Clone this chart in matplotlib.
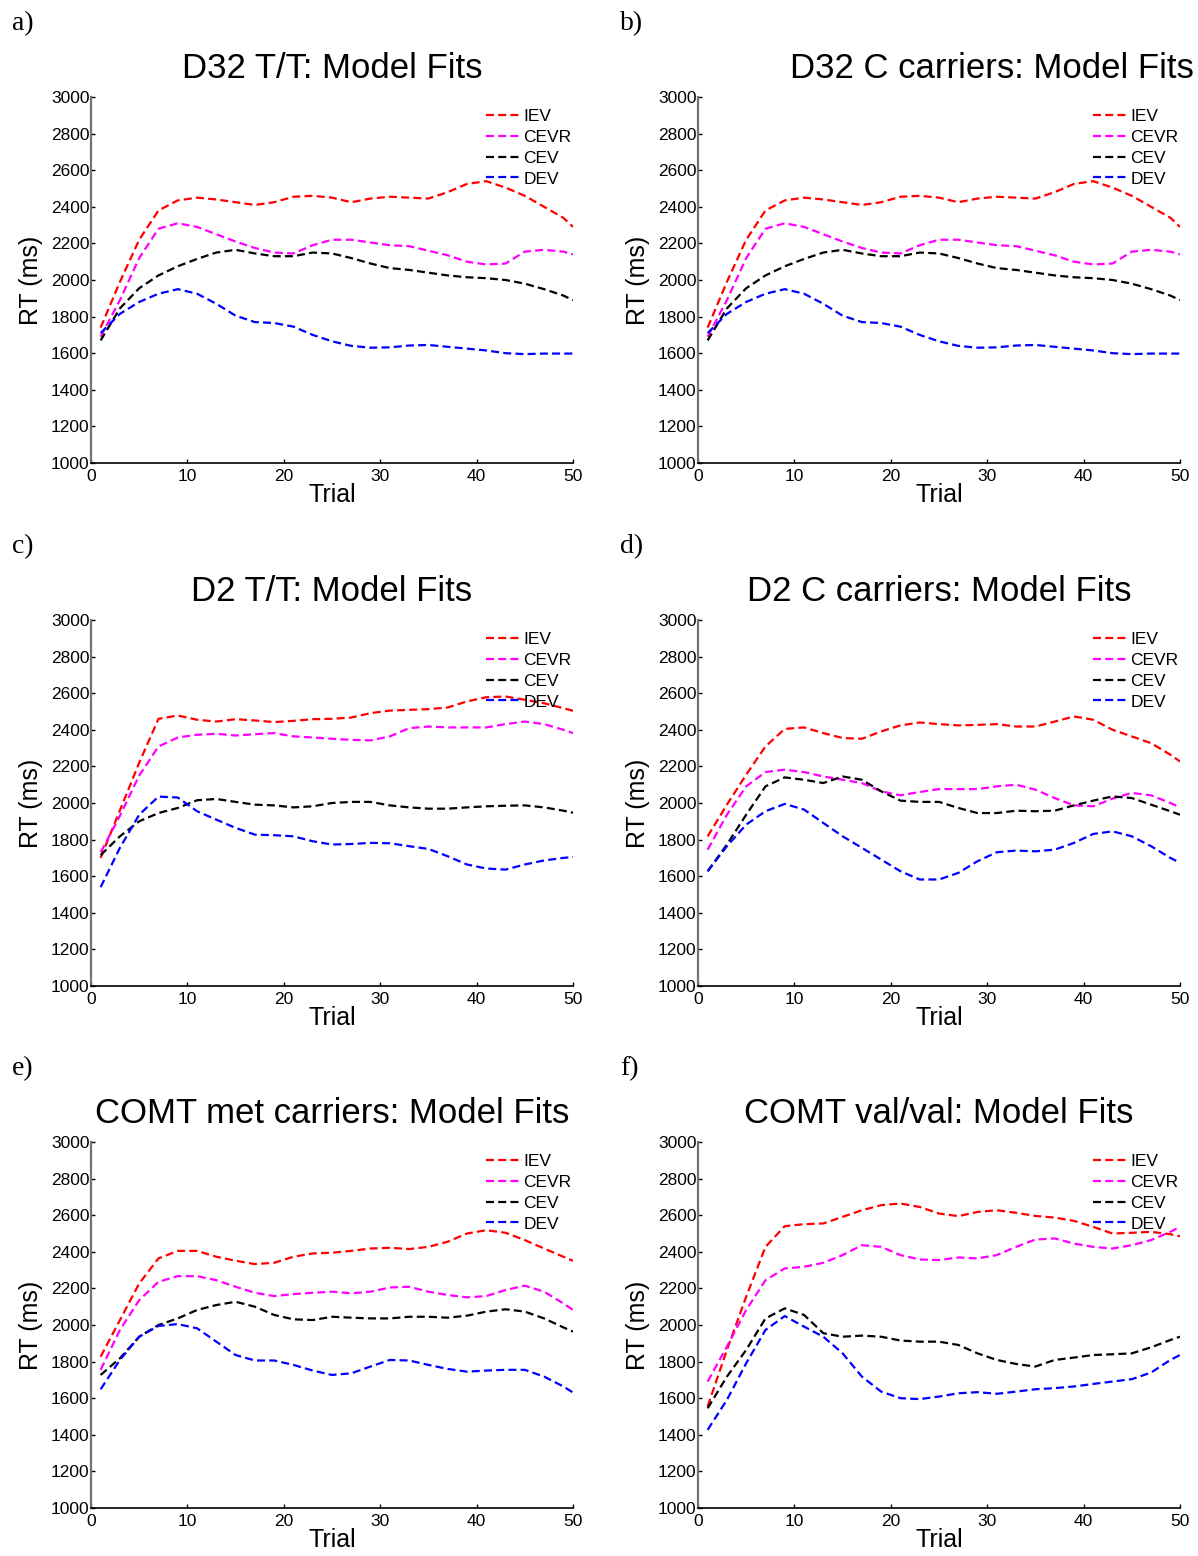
import matplotlib
matplotlib.use('Agg')
import matplotlib.pyplot as plt

plt.rcParams['font.family'] = ['Liberation Sans', 'DejaVu Sans']

trials = list(range(1, 50, 2)) + [50]
models = ['IEV', 'CEVR', 'CEV', 'DEV']
colors = ['red', 'magenta', 'black', 'blue']

# a) D32 T/T
d32tt_iev = [1740, 1990, 2220, 2380, 2435, 2450, 2440, 2425, 2410, 2425, 2455, 2460, 2450,
             2425, 2445, 2455, 2450, 2445, 2480, 2525, 2540, 2505, 2460, 2400, 2340, 2290]
d32tt_cevr = [1690, 1890, 2120, 2280, 2310, 2290, 2250, 2210, 2175, 2150, 2145, 2190, 2220,
              2220, 2205, 2190, 2185, 2160, 2135, 2100, 2085, 2090, 2155, 2165, 2155, 2140]
d32tt_cev = [1670, 1845, 1955, 2025, 2075, 2115, 2150, 2165, 2145, 2130, 2130, 2150, 2145,
             2120, 2090, 2065, 2055, 2040, 2025, 2015, 2010, 2000, 1980, 1950, 1915, 1890]
d32tt_dev = [1710, 1815, 1880, 1925, 1950, 1925, 1870, 1805, 1770, 1765, 1745, 1700, 1665,
             1640, 1630, 1632, 1642, 1645, 1635, 1625, 1615, 1600, 1595, 1598, 1598, 1598]

# b) D32 C carriers (same curves as in a)
d32c_iev = [1740, 1990, 2220, 2380, 2435, 2450, 2440, 2425, 2410, 2425, 2455, 2460, 2450,
            2425, 2445, 2455, 2450, 2445, 2480, 2525, 2540, 2505, 2460, 2400, 2340, 2290]
d32c_cevr = [1690, 1890, 2120, 2280, 2310, 2290, 2250, 2210, 2175, 2150, 2145, 2190, 2220,
             2220, 2205, 2190, 2185, 2160, 2135, 2100, 2085, 2090, 2155, 2165, 2155, 2140]
d32c_cev = [1670, 1845, 1955, 2025, 2075, 2115, 2150, 2165, 2145, 2130, 2130, 2150, 2145,
            2120, 2090, 2065, 2055, 2040, 2025, 2015, 2010, 2000, 1980, 1950, 1915, 1890]
d32c_dev = [1710, 1815, 1880, 1925, 1950, 1925, 1870, 1805, 1770, 1765, 1745, 1700, 1665,
            1640, 1630, 1632, 1642, 1645, 1635, 1625, 1615, 1600, 1595, 1598, 1598, 1598]

# c) D2 T/T
d2tt_iev = [1700, 1960, 2220, 2460, 2478, 2455, 2445, 2458, 2451, 2442, 2449, 2458, 2460,
            2467, 2491, 2505, 2509, 2513, 2522, 2555, 2578, 2582, 2564, 2545, 2518, 2504]
d2tt_cevr = [1730, 1930, 2150, 2309, 2358, 2373, 2378, 2369, 2376, 2382, 2364, 2358, 2351,
             2345, 2342, 2364, 2409, 2418, 2413, 2413, 2413, 2431, 2445, 2431, 2400, 2382]
d2tt_cev = [1715, 1818, 1900, 1945, 1973, 2015, 2022, 2006, 1991, 1987, 1976, 1982, 2000,
            2006, 2006, 1987, 1976, 1969, 1969, 1976, 1982, 1985, 1987, 1976, 1958, 1947]
d2tt_dev = [1540, 1755, 1936, 2035, 2030, 1955, 1909, 1864, 1827, 1824, 1818, 1791, 1773,
            1776, 1782, 1780, 1764, 1749, 1709, 1664, 1642, 1636, 1664, 1686, 1700, 1705]

# d) D2 C carriers
d2c_iev = [1818, 1991, 2155, 2309, 2405, 2413, 2382, 2355, 2351, 2391, 2424, 2440, 2431,
           2424, 2427, 2431, 2418, 2418, 2445, 2473, 2455, 2400, 2364, 2327, 2264, 2227]
d2c_cevr = [1745, 1936, 2091, 2169, 2182, 2169, 2145, 2127, 2109, 2064, 2042, 2060, 2076,
            2076, 2076, 2091, 2100, 2073, 2027, 1987, 1982, 2024, 2055, 2042, 2000, 1976]
d2c_cev = [1627, 1773, 1936, 2091, 2140, 2127, 2109, 2145, 2127, 2064, 2013, 2006, 2006,
           1973, 1945, 1945, 1958, 1955, 1958, 1987, 2013, 2036, 2027, 1991, 1955, 1936]
d2c_dev = [1627, 1764, 1882, 1955, 1995, 1964, 1891, 1818, 1755, 1691, 1627, 1582, 1582,
           1618, 1682, 1731, 1740, 1736, 1745, 1782, 1831, 1845, 1818, 1764, 1700, 1673]

# e) COMT met carriers
met_iev = [1827, 2027, 2227, 2364, 2405, 2405, 2373, 2351, 2333, 2340, 2373, 2391, 2395,
           2405, 2418, 2422, 2415, 2427, 2455, 2500, 2518, 2504, 2464, 2418, 2373, 2351]
met_cevr = [1755, 1973, 2136, 2236, 2267, 2267, 2245, 2209, 2176, 2158, 2169, 2176, 2182,
            2173, 2182, 2205, 2209, 2182, 2164, 2151, 2158, 2191, 2215, 2182, 2118, 2082]
met_cev = [1727, 1818, 1936, 2000, 2036, 2082, 2109, 2127, 2100, 2055, 2031, 2027, 2045,
           2040, 2036, 2036, 2045, 2045, 2040, 2051, 2073, 2086, 2073, 2036, 1987, 1964]
met_dev = [1649, 1809, 1936, 1995, 2005, 1982, 1909, 1836, 1806, 1806, 1782, 1751, 1727,
           1736, 1773, 1809, 1806, 1782, 1760, 1745, 1751, 1755, 1755, 1718, 1664, 1631]

# f) COMT val/val
val_iev = [1555, 1864, 2155, 2427, 2540, 2551, 2555, 2591, 2627, 2655, 2664, 2645, 2609,
           2595, 2618, 2627, 2613, 2596, 2587, 2569, 2536, 2500, 2504, 2509, 2496, 2485]
val_cevr = [1691, 1882, 2082, 2245, 2309, 2318, 2340, 2382, 2436, 2427, 2382, 2358, 2355,
            2369, 2364, 2382, 2427, 2467, 2473, 2445, 2427, 2418, 2436, 2464, 2509, 2536]
val_cev = [1545, 1718, 1864, 2036, 2091, 2055, 1955, 1936, 1942, 1936, 1915, 1909, 1909,
           1891, 1845, 1809, 1787, 1773, 1809, 1822, 1836, 1840, 1845, 1878, 1918, 1936]
val_dev = [1427, 1591, 1791, 1973, 2049, 1991, 1936, 1845, 1718, 1636, 1600, 1595, 1609,
           1627, 1633, 1624, 1636, 1649, 1655, 1664, 1678, 1691, 1704, 1740, 1809, 1836]

panels = [
    ('a)', 'D32 T/T: Model Fits', [d32tt_iev, d32tt_cevr, d32tt_cev, d32tt_dev], 0.5),
    ('b)', 'D32 C carriers: Model Fits', [d32c_iev, d32c_cevr, d32c_cev, d32c_dev], 0.61),
    ('c)', 'D2 T/T: Model Fits', [d2tt_iev, d2tt_cevr, d2tt_cev, d2tt_dev], 0.5),
    ('d)', 'D2 C carriers: Model Fits', [d2c_iev, d2c_cevr, d2c_cev, d2c_dev], 0.5),
    ('e)', 'COMT met carriers: Model Fits', [met_iev, met_cevr, met_cev, met_dev], 0.5),
    ('f)', 'COMT val/val: Model Fits', [val_iev, val_cevr, val_cev, val_dev], 0.5),
]

W, H = 1198, 1556
fig = plt.figure(figsize=(W / 100, H / 100), dpi=100)

col_left = [91, 698]
row_top = [97, 620, 1142]
ax_w, ax_h = 482, 366
label_x = [12, 620]
label_y = [24, 547, 1069]

for i, (letter, title, series, title_x) in enumerate(panels):
    r, c = divmod(i, 2)
    ax = fig.add_axes([col_left[c] / W, 1 - (row_top[r] + ax_h) / H, ax_w / W, ax_h / H])

    for vals, name, col in zip(series, models, colors):
        ax.plot(trials, vals, color=col, lw=1.6, linestyle=(0, (3.6, 1.9)), label=name)

    ax.set_xlim(0, 50)
    ax.set_ylim(1000, 3000)
    ax.set_xticks(range(0, 51, 10))
    ax.set_yticks(range(1000, 3001, 200))

    ax.spines['top'].set_visible(False)
    ax.spines['right'].set_visible(False)
    ax.spines['left'].set_color('0.45')
    ax.spines['left'].set_linewidth(1.6)
    ax.spines['bottom'].set_color('black')
    ax.spines['bottom'].set_linewidth(1.2)
    ax.tick_params(direction='in', length=3, width=1, labelsize=12.5)
    ax.tick_params(axis='y', pad=1)
    ax.tick_params(axis='x', pad=4)

    ax.set_xlabel('Trial', fontsize=18)
    ax.xaxis.set_label_coords(0.5, -0.056)
    ax.set_ylabel('RT (ms)', fontsize=18)
    ax.yaxis.set_label_coords(-0.10, 0.5)

    ax.text(title_x, 1.052, title, transform=ax.transAxes, fontsize=25,
            ha='center', va='baseline')

    ax.legend(loc='upper left', bbox_to_anchor=(0.82, 0.968), frameon=False,
              fontsize=12.5, handlelength=1.95, handletextpad=0.2, labelspacing=0.33,
              borderpad=0, borderaxespad=0)

    fig.text(label_x[c] / W, 1 - label_y[r] / H, letter, fontsize=20,
             family=['Liberation Serif', 'DejaVu Serif'], ha='left', va='center')

fig.savefig('out.png', dpi=100)
